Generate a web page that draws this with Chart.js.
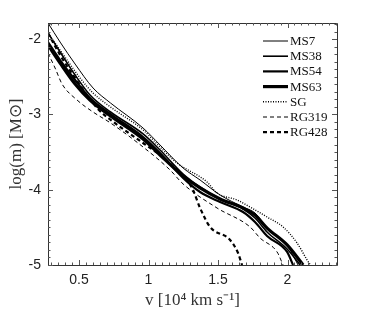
<!DOCTYPE html>
<html><head><meta charset="utf-8">
<script src="https://cdn.jsdelivr.net/npm/chart.js@4/dist/chart.umd.min.js"></script>
<style>html,body{margin:0;padding:0;background:#fff}</style>
</head><body>
<canvas id="c" width="374" height="312"></canvas>
<script>
// ---- data (v in 10^4 km/s, log m in Msun) ----
const ms7V  = [0.277,0.364,0.472,0.601,0.727,0.961,1.083,1.249,1.371,1.515,1.680,1.766,1.853,1.997,2.076];
const ms7M  = [-1.786,-2.039,-2.331,-2.649,-2.849,-3.181,-3.406,-3.712,-3.871,-4.070,-4.230,-4.309,-4.509,-4.734,-5.0];
const ms38V = [0.277,0.364,0.472,0.579,0.727,0.961,1.083,1.249,1.371,1.515,1.680,1.766,1.853,1.997,2.091];
const ms38M = [-1.919,-2.171,-2.477,-2.742,-2.968,-3.260,-3.473,-3.792,-3.964,-4.124,-4.256,-4.376,-4.562,-4.788,-5.0];
const ms54V = [0.277,0.364,0.472,0.579,0.727,0.961,1.083,1.249,1.371,1.515,1.680,1.766,1.853,1.997,2.040];
const ms54M = [-2.039,-2.278,-2.543,-2.782,-2.995,-3.300,-3.513,-3.845,-4.031,-4.163,-4.296,-4.429,-4.615,-4.827,-5.0];
const ms63V = [0.277,0.364,0.472,0.579,0.727,0.961,1.083,1.249,1.371,1.515,1.680,1.766,1.853,1.997,2.112];
const ms63M = [-2.078,-2.317,-2.596,-2.809,-3.021,-3.327,-3.539,-3.818,-3.977,-4.124,-4.243,-4.336,-4.509,-4.734,-5.0];
const sgV   = [0.277,0.328,0.414,0.508,0.601,0.727,0.961,1.083,1.205,1.421,1.493,1.637,1.731,1.853,1.968,2.069,2.141,2.165];
const sgM   = [-1.919,-2.052,-2.278,-2.517,-2.716,-2.902,-3.207,-3.433,-3.645,-3.898,-4.044,-4.137,-4.230,-4.363,-4.495,-4.708,-4.934,-5.0];
const rg319V = [0.277,0.328,0.378,0.486,0.601,0.727,0.961,1.155,1.249,1.493,1.731,1.802,1.925,1.968];
const rg319M = [-2.185,-2.384,-2.596,-2.809,-2.968,-3.114,-3.433,-3.738,-3.924,-4.243,-4.495,-4.641,-4.827,-5.0];
const rg428V = [0.277,0.364,0.472,0.630,0.749,0.961,1.083,1.205,1.277,1.320,1.371,1.443,1.587,1.644,1.673];
const rg428M = [-1.919,-2.211,-2.517,-2.915,-3.101,-3.380,-3.539,-3.738,-3.871,-4.004,-4.243,-4.495,-4.668,-4.841,-5.0];

const seriesLabels = ['MS7','MS38','MS54','MS63','SG','RG319','RG428'];
const xTickValues = [0.5, 1, 1.5, 2];
const yTickValues = [-5, -4, -3, -2];

const pts = (xs, ys) => xs.map((x, i) => ({x: x, y: ys[i]}));
const styles = [
  {w:1,   dash:[]},
  {w:1.6, dash:[]},
  {w:2.2, dash:[]},
  {w:3.2, dash:[]},
  {w:1.4, dash:[1,1.5]},
  {w:1,   dash:[4,3]},
  {w:2.2, dash:[4,3]}
];
const allData = [pts(ms7V,ms7M), pts(ms38V,ms38M), pts(ms54V,ms54M), pts(ms63V,ms63M), pts(sgV,sgM), pts(rg319V,rg319M), pts(rg428V,rg428M)];

const datasets = allData.map((d, i) => ({
  label: seriesLabels[i],
  data: d,
  borderColor: '#000',
  borderWidth: styles[i].w,
  borderDash: styles[i].dash,
  pointRadius: 0,
  fill: false,
  cubicInterpolationMode: 'monotone'
}));

const framePlugin = {
  id: 'frame',
  afterDatasetsDraw(chart) {
    const {ctx, chartArea: a, scales} = chart;
    const xs = scales.x, ys = scales.y;
    ctx.save();
    ctx.strokeStyle = '#333';
    ctx.lineWidth = 1;
    ctx.beginPath();
    ctx.rect(Math.round(a.left) + 0.5, Math.round(a.top) + 0.5, Math.round(a.right - a.left), Math.round(a.bottom - a.top));
    ctx.stroke();
    ctx.strokeStyle = '#555';
    ctx.beginPath();
    for (let k = 6; k <= 47; k++) {
      const v = k * 0.05;
      if (v < xs.min || v > xs.max) continue;
      const px = Math.round(xs.getPixelForValue(v)) + 0.5;
      const len = (k % 10 === 0) ? 5 : 2.5;
      ctx.moveTo(px, a.bottom); ctx.lineTo(px, a.bottom - len);
      ctx.moveTo(px, a.top); ctx.lineTo(px, a.top + len);
    }
    for (let k = -50; k <= -17; k++) {
      const v = k * 0.1;
      if (v < ys.min - 1e-9 || v > ys.max) continue;
      const py = Math.round(ys.getPixelForValue(v)) + 0.5;
      const len = (k % 10 === 0) ? 5 : 2.5;
      ctx.moveTo(a.left, py); ctx.lineTo(a.left + len, py);
      ctx.moveTo(a.right, py); ctx.lineTo(a.right - len, py);
    }
    ctx.stroke();
    ctx.restore();
  }
};

const legendPlugin = {
  id: 'innerLegend',
  afterDraw(chart) {
    const ctx = chart.ctx;
    ctx.save();
    ctx.font = '13px "Liberation Serif", serif';
    ctx.fillStyle = '#111';
    ctx.textBaseline = 'middle';
    ctx.textAlign = 'left';
    chart.data.datasets.forEach((ds, i) => {
      const y = 41 + i * 15.2;
      ctx.strokeStyle = '#000';
      ctx.lineWidth = ds.borderWidth;
      ctx.setLineDash(ds.borderDash || []);
      ctx.beginPath();
      ctx.moveTo(263, y); ctx.lineTo(288, y);
      ctx.stroke();
      ctx.setLineDash([]);
      ctx.fillText(ds.label, 290, y + 0.5);
    });
    ctx.restore();
  }
};

new Chart(document.getElementById('c'), {
  type: 'line',
  data: { datasets: datasets },
  options: {
    responsive: false,
    devicePixelRatio: 1,
    animation: false,
    layout: { padding: { left: 0, right: 37, top: 23, bottom: 0 } },
    plugins: { legend: { display: false }, tooltip: { enabled: false } },
    scales: {
      x: {
        type: 'linear', min: 0.277, max: 2.356,
        grid: { display: false, drawTicks: false },
        border: { display: false },
        afterBuildTicks: (s) => { s.ticks = xTickValues.map(v => ({value: v})); },
        afterFit: (s) => { s.height = 47; },
        ticks: {
          padding: 7, color: '#222',
          font: { family: '"Liberation Sans", Arial, sans-serif', size: 14 },
          callback: (v) => String(v)
        },
        title: {
          display: true, text: 'v [10\u2074 km s\u207B\u00B9]', color: '#333',
          font: { family: '"Liberation Serif", serif', size: 17 },
          padding: { top: 0, bottom: 1 }
        }
      },
      y: {
        type: 'linear', min: -5, max: -1.786,
        grid: { display: false, drawTicks: false },
        border: { display: false },
        afterBuildTicks: (s) => { s.ticks = yTickValues.map(v => ({value: v})); },
        afterFit: (s) => { s.width = 48; },
        ticks: {
          padding: 7, color: '#222',
          font: { family: '"Liberation Sans", Arial, sans-serif', size: 14 },
          callback: (v) => String(v)
        },
        title: {
          display: true, text: 'log(m) [M\u2299]', color: '#333',
          font: { family: '"Liberation Serif", serif', size: 17 },
          padding: { top: 6, bottom: 0 }
        }
      }
    }
  },
  plugins: [framePlugin, legendPlugin]
});
</script>
</body></html>
